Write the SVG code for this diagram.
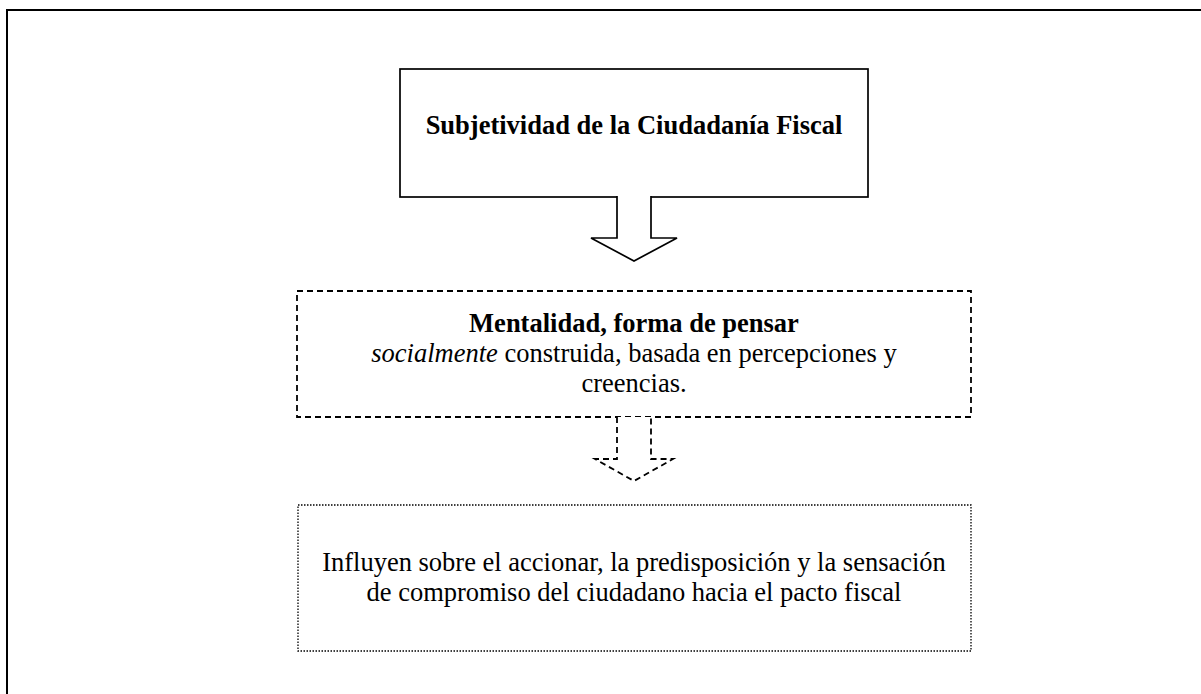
<svg xmlns="http://www.w3.org/2000/svg" width="1201" height="694" viewBox="0 0 1201 694">
<style>
.t{font-family:"Liberation Serif","Times New Roman",serif;font-size:26.5px;fill:#000}
.b{font-weight:bold}
.solid{fill:#fff;stroke:#000;stroke-width:1.7}
.dash{fill:#fff;stroke:#000;stroke-width:1.8;stroke-dasharray:6 4}
.dot{fill:#fff;stroke:#000;stroke-width:1.3;stroke-dasharray:1.5 1.5}
</style>
<rect id="frame" x="7" y="10" width="1300" height="800" fill="#fff" stroke="#000" stroke-width="2"/>
<g id="node-top">
<rect class="solid" x="400" y="69" width="468" height="128"/>
<text class="t b" x="634" y="133.5" text-anchor="middle">Subjetividad de la Ciudadanía Fiscal</text>
</g>
<g id="node-mid">
<rect class="dash" x="297" y="291" width="674" height="126"/>
<text class="t" text-anchor="middle"><tspan class="b" x="634" y="332">Mentalidad, forma de pensar</tspan><tspan x="634" y="362"><tspan font-style="italic">socialmente</tspan> construida, basada en percepciones y</tspan><tspan x="634" y="392">creencias.</tspan></text>
</g>
<g id="node-bottom">
<rect class="dot" x="298" y="505" width="673" height="146"/>
<text class="t" text-anchor="middle"><tspan x="634" y="571">Influyen sobre el accionar, la predisposición y la sensación</tspan><tspan x="634" y="601">de compromiso del ciudadano hacia el pacto fiscal</tspan></text>
</g>
<g id="connectors">
<path class="solid" d="M617,196 V238 H591 L634,261 L677,238 H651 V196"/>
<path class="dash" d="M617,417 V459 H595 L634,481 L673,459 H651 V417"/>
</g>
</svg>
